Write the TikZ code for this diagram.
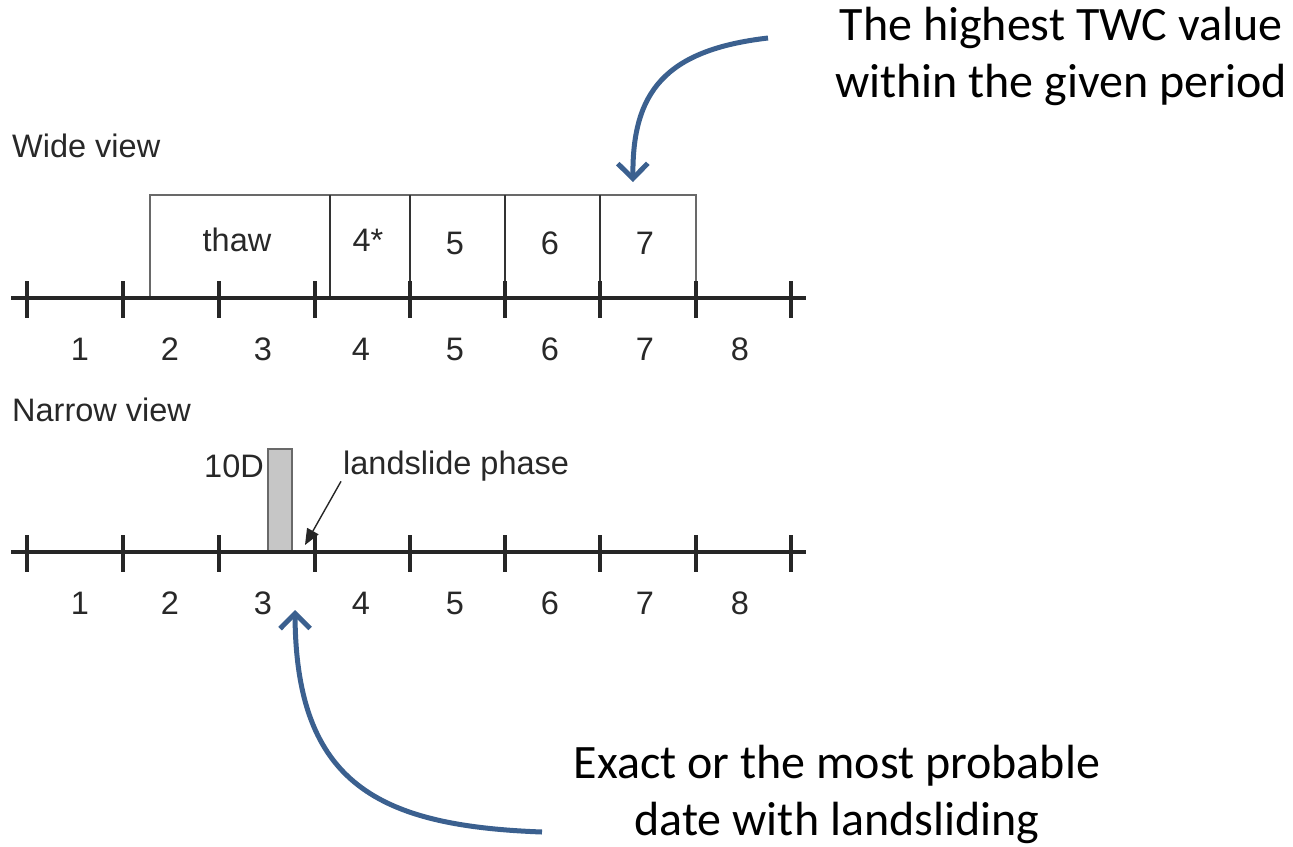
\documentclass[tikz,border=0pt]{standalone}
\usepackage{fontspec}
\setmainfont{Liberation Sans}
\newfontfamily\calib{Carlito}
\usetikzlibrary{arrows.meta}
\definecolor{bluearrow}{RGB}{59,96,143}
\definecolor{txtgray}{RGB}{40,40,40}
\definecolor{boxgray}{RGB}{105,105,105}
\definecolor{barfill}{RGB}{198,198,198}
\begin{document}
\begin{tikzpicture}[x=1pt,y=-1pt,
  lbl/.style={font=\fontsize{32.5}{32.5}\selectfont, text=txtgray, inner sep=0pt},
  note/.style={font=\calib\fontsize{48}{57}\selectfont, align=center, inner sep=0pt, text=black},
  axis/.style={line width=3.6pt, black!85},
  tick/.style={line width=3.6pt, black!85},
  boxline/.style={line width=2.3pt, boxgray},
  bluearr/.style={line width=5pt, bluearrow, -{Straight Barb[length=15pt,width=30pt]}},
  pointer/.style={line width=1.4pt, black!85, -{Triangle[length=16pt,width=13pt]}}]
\useasboundingbox (0,0) rectangle (1293,846);

% ---------- Wide view ----------
\node[lbl, anchor=west] (wide) at (12,146) {Wide view};
\coordinate (wl) at (11,298);
\coordinate (wr) at (806,298);
% box
\draw[boxline] (150,298) |- (696,195) -- (696,298);
\foreach \x in {330,410,505,600} \draw[boxline, black!80] (\x,195) -- (\x,298);
\draw[axis] (wl) -- (wr);
\foreach \x in {27,123,219,315,410,505,600,696,791}
  \draw[tick] (\x,281) -- (\x,318);
\foreach \x/\t in {80/1,170/2,263/3,361/4,455/5,550/6,645/7,740/8}
  \node[lbl] (wn\t) at (\x,349) {\t};
\node[lbl] (thaw) at (237,240) {thaw};
\node[lbl] (b4) at (368,240) {4*};
\node[lbl] (b5) at (455,243) {5};
\node[lbl] (b6) at (550,243) {6};
\node[lbl] (b7) at (645,243) {7};

% ---------- Narrow view ----------
\node[lbl, anchor=west] (narrow) at (12,410) {Narrow view};
\coordinate (nl) at (11,552);
\coordinate (nr) at (806,552);
\draw[boxline, fill=barfill] (268,552) rectangle (292,449);
\draw[axis] (nl) -- (nr);
\foreach \x in {27,123,219,315,410,505,600,696,791}
  \draw[tick] (\x,535) -- (\x,572);
\foreach \x/\t in {80/1,170/2,263/3,361/4,455/5,550/6,645/7,740/8}
  \node[lbl] (nn\t) at (\x,603) {\t};
\node[lbl, anchor=east] (tend) at (264,466) {10D};
\node[lbl, anchor=west] (phase) at (343,466) {landslide phase};
\coordinate (ptip) at (305,545);
\draw[pointer] ([xshift=-2pt]phase.south west) -- (ptip);

% ---------- Annotations ----------
\node[note] (topnote) at (1061,56) {The highest TWC value\\within the given period};
\node[note] (botnote) at (837,794) {Exact or the most probable\\date with landsliding};
\coordinate (ts) at (768,38);
\coordinate (te) at (633,182);
\draw[bluearr] (ts) .. controls (665,50) and (632,92) .. (te);
\coordinate (bs) at (542,832);
\coordinate (be) at (295,610);
\draw[bluearr] (bs) .. controls (380,826) and (296,785) .. (be);
\end{tikzpicture}
\end{document}
